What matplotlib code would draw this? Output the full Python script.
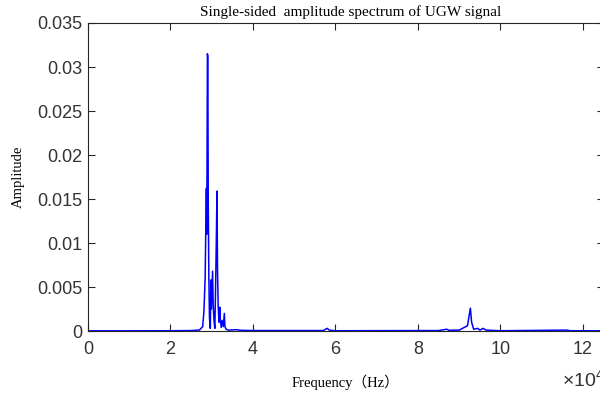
import matplotlib
matplotlib.use('Agg')
import matplotlib.pyplot as plt
from matplotlib.ticker import FuncFormatter

# key points (Hz, amplitude)
freq = [0, 10000, 20000, 25000, 26500, 27000, 27800, 28100, 28400, 28600,
        28700, 28800, 28950, 29050, 29150, 29300, 29450, 29650, 29800, 29900,
        30200, 30350, 30550, 30750, 30900, 31100, 31270, 31400, 31550, 31750,
        31950, 32100, 32300, 32500, 32800, 33050, 33200, 33500, 34000, 36000,
        37000, 40000, 57000, 58000, 58500, 60000, 85000, 87000, 87500, 90000,
        92000, 92700, 93000, 93500, 94500, 95000, 95800, 96500, 100000, 116000,
        117000, 125000]
amp = [0.00002, 0.00002, 0.00003, 0.00005, 0.0001, 0.0001, 0.0005, 0.0022, 0.006, 0.013,
       0.0162, 0.011, 0.0315, 0.0312, 0.015, 0.006, 0.0015, 0.0003, 0.0058, 0.0025,
       0.0068, 0.003, 0.0012, 0.0003, 0.004, 0.01, 0.0159, 0.007, 0.003, 0.001,
       0.0027, 0.0012, 0.0004, 0.0012, 0.0005, 0.002, 0.0005, 0.0002, 0.0001, 0.00015,
       0.00008, 0.00005, 0.00005, 0.0003, 0.0001, 0.00003, 0.00005, 0.0002, 0.00008, 0.0001,
       0.0006, 0.0026, 0.001, 0.0002, 0.0003, 0.0001, 0.0003, 0.0001, 0.00003, 0.0001,
       0.00003, 0.00002]

xticks = [0, 20000, 40000, 60000, 80000, 100000, 120000]
yticks = [0, 0.005, 0.01, 0.015, 0.02, 0.025, 0.03, 0.035]

plt.rcParams['mathtext.fontset'] = 'custom'
plt.rcParams['mathtext.rm'] = 'Liberation Sans'

fig = plt.figure(figsize=(6, 3.94), dpi=100)
ax = fig.add_axes([88 / 600, 1 - 331 / 394, (603.6 - 88) / 600, (331 - 23) / 394])
ax.plot(freq, amp, color='#0000FF', lw=1.1)

ax.set_xlim(0, 125000)
ax.set_ylim(0, 0.035)
ax.set_xticks(xticks)
ax.set_yticks(yticks)
ax.xaxis.set_major_formatter(FuncFormatter(lambda v, p: '%g' % (v / 1e4)))
ax.yaxis.set_major_formatter(FuncFormatter(lambda v, p: '%g' % v))
ax.tick_params(direction='in', length=5, width=0.8, top=True, right=True,
               labelsize=13, labelcolor='#333333', colors='#262626')
ax.tick_params(axis='x', pad=7)
ax.tick_params(axis='y', pad=4)
for t in ax.get_xticklabels() + ax.get_yticklabels():
    t.set_fontfamily('Liberation Sans')
for s in ax.spines.values():
    s.set_linewidth(0.8)
    s.set_color('#262626')

fig.text(351 / 600, 1 - 12 / 394, 'Single-sided  amplitude spectrum of UGW signal', fontsize=11,
         family='Liberation Serif', ha='center', va='center')
fig.text(345 / 600, 1 - 382 / 394, 'Frequency（Hz）', fontsize=10.5, ha='center', va='center',
         family=['Liberation Serif', 'Noto Sans CJK SC'])
fig.text(18 / 600, 1 - 177 / 394, 'Amplitude', fontsize=10.5, rotation=90,
         ha='center', va='center', family='Liberation Serif')
fig.text(562 / 600, 1 - 387 / 394, r'$\times 10^{4}$', fontsize=14, color='#333333',
         ha='left', va='baseline')

fig.savefig('out.png', dpi=100)
